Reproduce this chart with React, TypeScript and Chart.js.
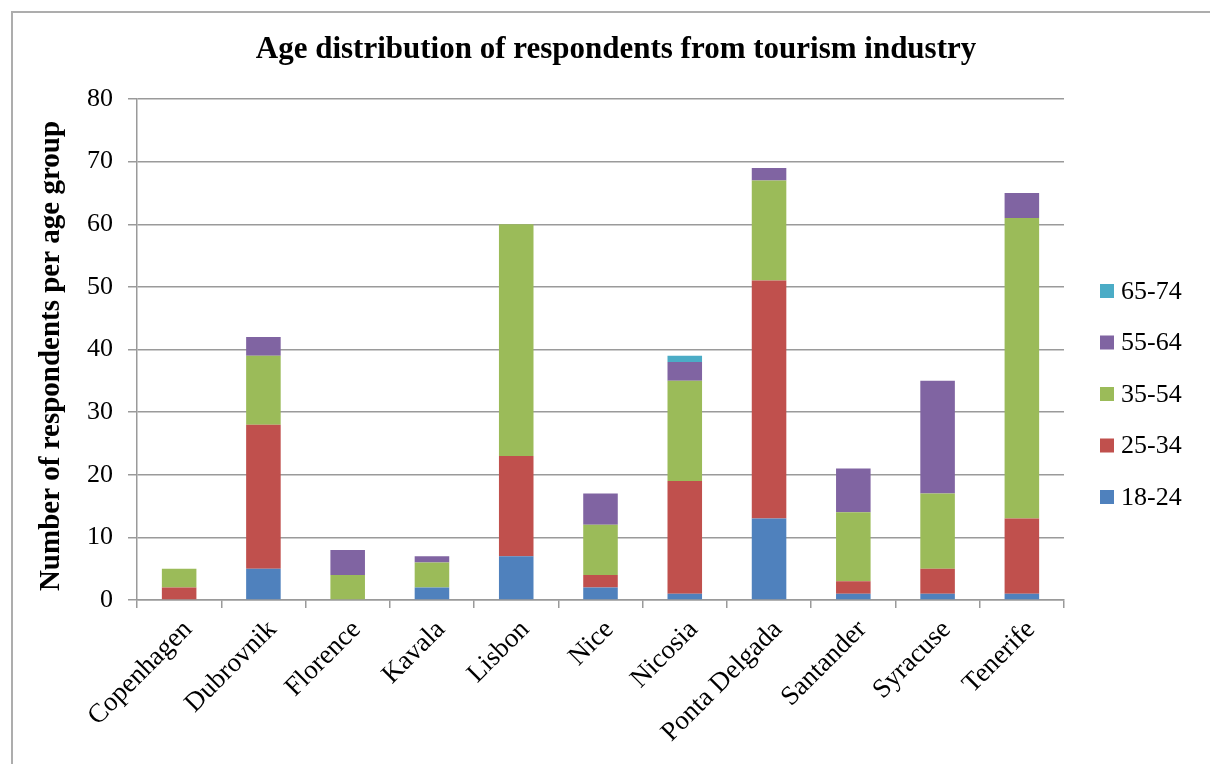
import React, { useEffect, useRef } from "react";
import { Chart, registerables } from "chart.js";

Chart.register(...registerables);

// Cities surveyed
const categories = [
  "Copenhagen",
  "Dubrovnik",
  "Florence",
  "Kavala",
  "Lisbon",
  "Nice",
  "Nicosia",
  "Ponta Delgada",
  "Santander",
  "Syracuse",
  "Tenerife",
];

// Respondents per age group, one value per city
const age18to24 = [0, 5, 0, 2, 7, 2, 1, 13, 1, 1, 1];
const age25to34 = [2, 23, 0, 0, 16, 2, 18, 38, 2, 4, 12];
const age35to54 = [3, 11, 4, 4, 37, 8, 16, 16, 11, 12, 48];
const age55to64 = [0, 3, 4, 1, 0, 5, 3, 2, 7, 18, 4];
const age65to74 = [0, 0, 0, 0, 0, 0, 1, 0, 0, 0, 0];

const seriesLabels = ["18-24", "25-34", "35-54", "55-64", "65-74"];
const seriesColors = ["#4F81BD", "#C0504D", "#9BBB59", "#8064A2", "#4BACC6"];

const yTicks = [0, 10, 20, 30, 40, 50, 60, 70, 80];

const chartTitle = "Age distribution of respondents from tourism industry";
const yAxisTitle = "Number of respondents per age group";

const FONT = "'Liberation Serif', 'Times New Roman', serif";
const GRID = "#9a9a9a";

// Outer frame, titles and the right-hand legend
const decorations = {
  id: "decorations",
  afterDraw(chart: any) {
    const ctx = chart.ctx;
    ctx.save();

    ctx.strokeStyle = "#adadad";
    ctx.lineWidth = 2;
    ctx.strokeRect(12, 12, 1400, 1000);

    ctx.fillStyle = "#000";
    ctx.font = `bold 31px ${FONT}`;
    ctx.textAlign = "center";
    ctx.textBaseline = "middle";
    ctx.fillText(chartTitle, 616, 50);

    // Vertical axis title
    ctx.save();
    ctx.translate(52, 356);
    ctx.rotate(-Math.PI / 2);
    ctx.font = `bold 29px ${FONT}`;
    ctx.fillText(yAxisTitle, 0, 0);
    ctx.restore();

    // Legend, top entry is the oldest group
    ctx.font = `26px ${FONT}`;
    ctx.textAlign = "left";
    const order = [4, 3, 2, 1, 0];
    order.forEach((si, i) => {
      const cy = 291 + i * 51.5;
      ctx.fillStyle = seriesColors[si];
      ctx.fillRect(1100, cy - 7, 14, 14);
      ctx.fillStyle = "#000";
      ctx.fillText(seriesLabels[si], 1121, cy + 1);
    });

    ctx.restore();
  },
};

export default function App() {
  const canvasRef = useRef<HTMLCanvasElement | null>(null);

  useEffect(() => {
    const canvas = canvasRef.current;
    if (!canvas) return;
    const values = [age18to24, age25to34, age35to54, age55to64, age65to74];

    const chart = new Chart(canvas, {
      type: "bar",
      data: {
        labels: categories,
        datasets: values.map((data, i) => ({
          label: seriesLabels[i],
          data,
          backgroundColor: seriesColors[i],
          borderWidth: 0,
          categoryPercentage: 1,
          barPercentage: 0.41,
        })),
      },
      options: {
        responsive: false,
        animation: false,
        layout: { padding: { left: 0, top: 99, right: 146, bottom: 0 } },
        plugins: {
          legend: { display: false },
          title: { display: false },
          tooltip: { enabled: false },
        },
        scales: {
          x: {
            stacked: true,
            afterFit(scale: any) {
              scale.height = 164;
            },
            grid: {
              display: true,
              drawOnChartArea: false,
              drawTicks: true,
              tickLength: 8,
              offset: true,
              color: GRID,
              lineWidth: 1.5,
            },
            border: { display: true, color: GRID, width: 1.5 },
            ticks: {
              minRotation: 45,
              maxRotation: 45,
              autoSkip: false,
              color: "#000",
              padding: 6,
              labelOffset: 9,
              font: { family: FONT, size: 27 },
            },
          },
          y: {
            stacked: true,
            min: 0,
            max: 80,
            afterFit(scale: any) {
              scale.width = 137;
            },
            afterBuildTicks(scale: any) {
              scale.ticks = yTicks.map((v) => ({ value: v }));
            },
            grid: {
              color: GRID,
              lineWidth: 1.5,
              tickLength: 9,
              drawTicks: true,
            },
            border: { display: true, color: GRID, width: 1.5 },
            ticks: {
              color: "#000",
              padding: 15,
              font: { family: FONT, size: 26 },
            },
          },
        },
      },
      plugins: [decorations],
    });

    return () => chart.destroy();
  }, []);

  return (
    <div style={{ position: "absolute", left: 0, top: 0, width: 1210, height: 764, background: "#fff" }}>
      <canvas ref={canvasRef} width={1210} height={764} />
    </div>
  );
}
